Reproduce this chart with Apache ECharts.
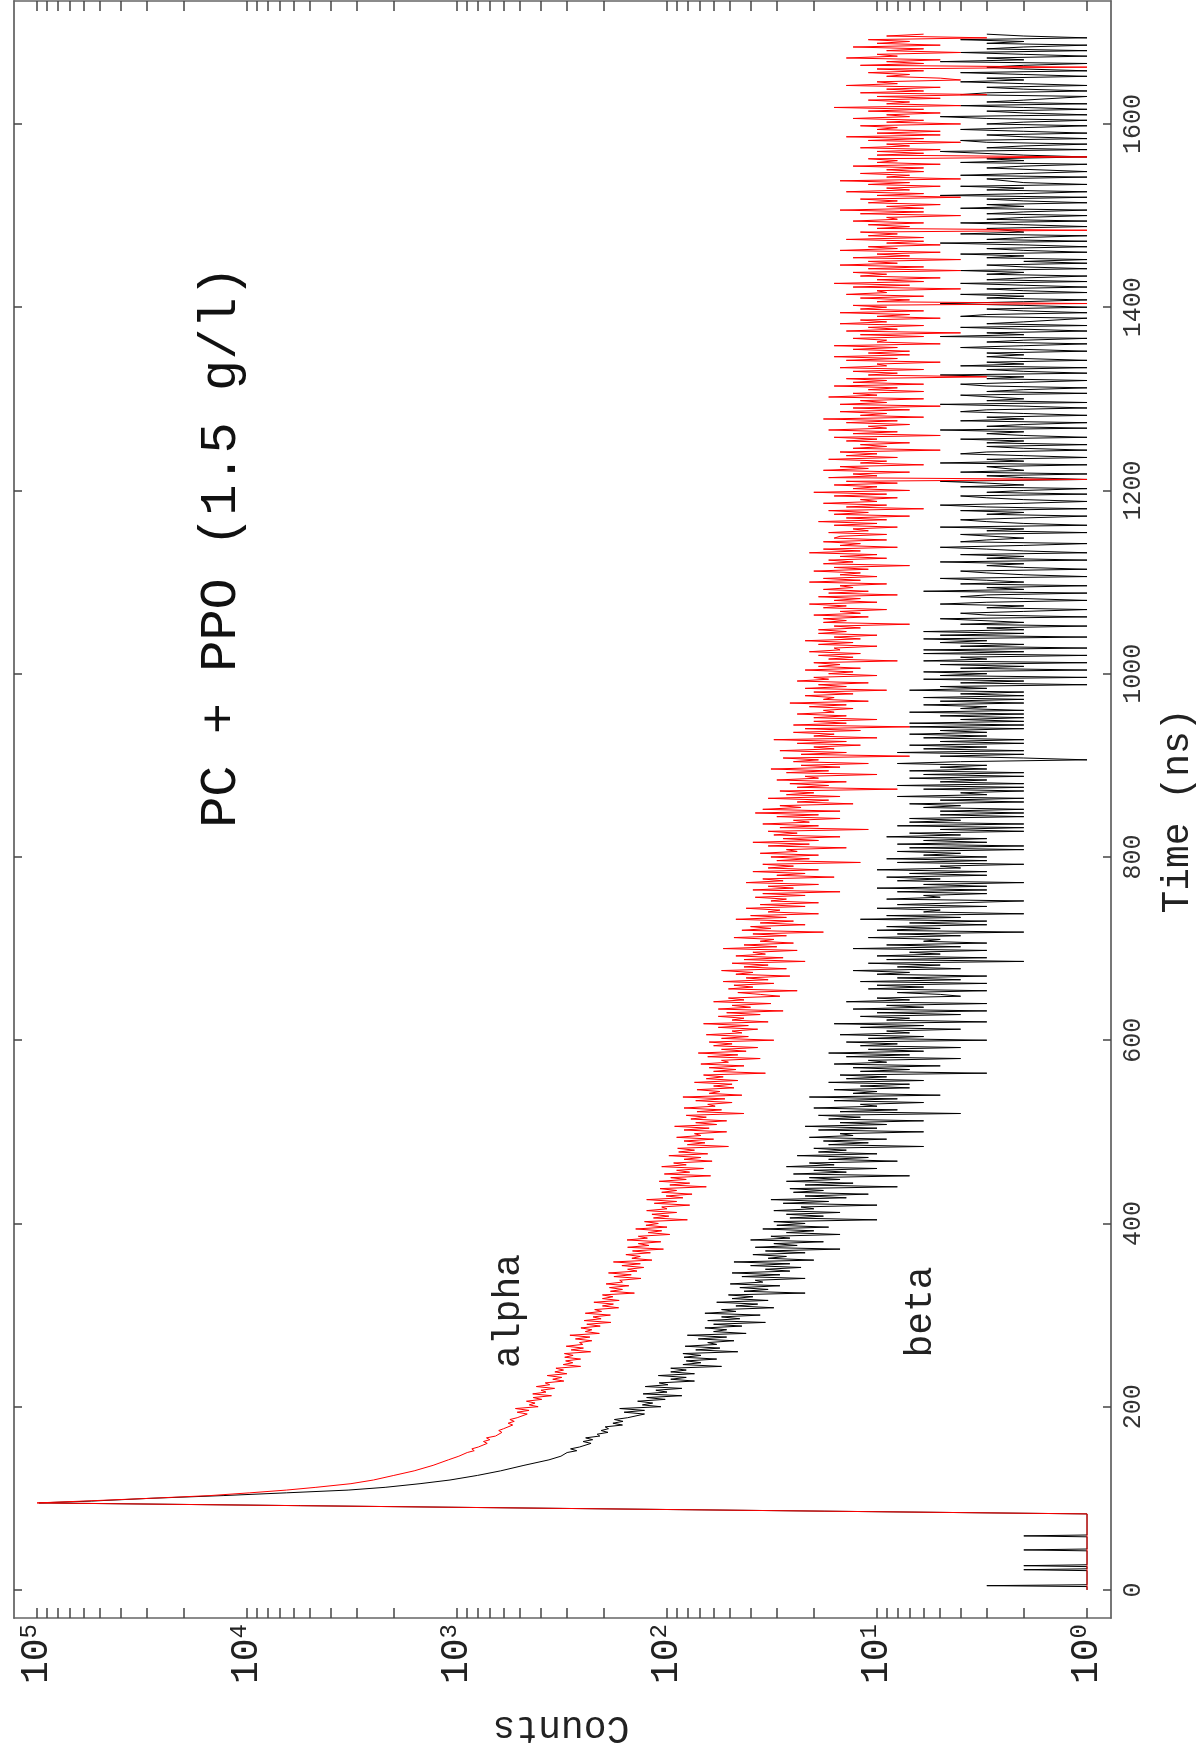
<!DOCTYPE html>
<html><head><meta charset="utf-8">
<script src="https://cdn.jsdelivr.net/npm/echarts@6/dist/echarts.min.js"></script>
<style>html,body{margin:0;padding:0;background:#fff}#c{width:1199px;height:1758px}</style>
</head><body><div id="c"></div>
<script>
// ---- data ----
const timeTicks = [0, 200, 400, 600, 800, 1000, 1200, 1400, 1600];
const countDecades = [1, 10, 100, 1000, 10000, 100000];

// before the pulse
const redPreTime = [0, 83];
const redPre = [1, 1];
const blackPreTime = [0, 3.7, 4.7, 5.7, 21.1, 22.1, 23.1, 25.5, 26.5, 27.5, 42.7, 43.7, 44.7, 58, 59, 60, 83];
const blackPre = [1, 1, 3, 1, 1, 2, 1, 1, 2, 1, 1, 2, 1, 1, 2, 1, 1];

// pulse and fast decay
const peakTime = [95, 97, 100, 103, 106, 109, 112, 116, 120, 125, 130, 136, 142, 146];
const redPeak = [100000, 60000, 29000, 15000, 9700, 6500, 4700, 3200, 2500, 2000, 1600, 1300, 1100, 980];
const blackPeak = [98000, 55000, 29000, 13000, 6500, 3300, 2200, 1500, 1080, 800, 620, 480, 365, 320];

// tail, 2 ns bins starting at 150 ns
const tailStart = 150, tailBin = 2;
const redTail = [
894,828,850,792,775,718,748,698,724,655,659,611,633,600,608,543,571,534,560,517,515,463,517,454,527,
411,453,425,467,395,434,355,436,377,398,343,419,362,380,310,350,317,372,300,342,311,338,258,312,281,
304,258,307,280,308,231,286,250,302,252,261,228,273,233,290,210,245,228,257,208,241,185,248,206,225,
186,245,205,221,170,203,180,223,169,203,181,203,143,186,163,188,152,195,163,168,133,179,148,190,139,
154,129,164,134,180,118,147,134,157,120,146,104,154,122,137,107,155,124,137,97,123,106,141,100,126,
110,128,80,116,98,118,90,125,100,106,78,115,90,125,84,101,76,106,90,108,65,97,78,109,81,
96,62,103,78,90,67,106,81,93,61,83,69,98,64,88,74,89,51,80,66,83,60,90,69,74,
52,83,63,92,58,73,52,77,65,81,43,72,55,83,59,64,49,73,53,84,44,63,56,72,48,
60,49,74,46,65,54,67,34,60,47,63,43,69,51,55,36,64,46,71,42,55,37,60,49,63,
31,55,41,65,44,49,37,57,41,67,33,49,43,57,36,52,28,57,40,49,32,60,43,51,29,
36,46,24,51,39,48,31,54,33,42,26,47,39,55,27,43,33,49,22,43,28,47,34,39,24,
54,30,43,25,36,31,48,27,39,18,44,32,40,22,36,25,47,27,40,19,33,29,42,22,36,
19,32,27,38,22,35,15,39,25,33,19,42,28,35,16,30,22,39,19,33,25,35,12,30,21,
32,19,36,24,27,14,33,21,39,19,28,15,31,24,33,11,29,19,35,21,25,15,30,19,38,
15,35,23,29,13,24,17,33,15,27,20,29,8,24,17,26,14,30,19,22,10,27,17,32,15,
23,11,25,19,28,7,23,14,29,16,20,12,24,14,31,10,20,16,25,12,22,7,25,14,20,
10,20,14,24,16,18,13,21,14,26,11,18,16,22,13,20,9,22,14,19,11,24,17,20,10,
17,13,22,12,19,15,20,8,17,13,19,12,21,15,16,10,19,13,22,12,16,10,19,14,19,
12,16,7,18,14,18,11,20,12,15,9,18,14,21,10,16,12,19,8,17,11,18,13,15,9,
21,12,18,10,15,12,20,11,16,7,18,13,17,9,15,10,21,12,18,8,15,12,18,9,16,
15,9,17,11,13,8,16,10,19,9,14,7,16,11,17,6,14,9,18,10,12,8,16,9,20,
7,13,10,16,8,14,1,17,10,13,7,18,11,15,6,12,9,17,8,14,10,15,5,13,9,
12,7,14,10,16,5,13,8,17,9,11,7,14,8,18,6,12,9,15,7,13,5,15,9,12,
6,17,10,13,6,11,8,16,6,13,9,14,3,11,8,13,6,15,9,10,5,14,8,16,7,
11,7,13,8,16,5,10,9,13,6,12,4,14,8,11,6,15,9,12,5,10,7,15,6,12,
9,13,1,10,7,12,6,14,9,10,4,13,7,16,6,10,5,12,9,13,4,11,6,15,8,
11,4,13,7,10,5,15,8,11,5,9,6,14,6,11,8,12,1,10,7,11,6,13,8,9,
4,12,6,15,6,9,5,11,8,12,4,10,6,14,7,9,5,11,7,15,4,9,7,12,6,
9,6,13,5,10,8,11,1,10,6,10,5,12,7,9,4,11,6,14,5,10,5,10,8,12,
4,9,6,13,7,9,5,11,6,16,4,9,7,11,5,10,3,12,6,9,5,14,8,10,4,
5,9,7,11,6,10,1,12,6,9,5,14,8,10,4,9,6,13,5,10,7,11,3,9,6
];
const blackTail = [
299,269,288,261,257,230,251,226,244,209,215,191,206,190,197,163,181,162,178,154,156,128,160,128,168,
107,131,117,138,102,125,85,130,100,113,85,127,99,109,74,96,81,110,74,96,81,96,55,84,69,
81,58,83,69,84,46,73,56,82,58,64,48,71,52,80,42,60,52,66,44,60,34,64,45,55,
36,66,47,55,31,47,37,58,33,49,39,51,22,43,33,45,29,50,35,38,22,44,29,49,26,
34,23,40,26,48,20,33,27,39,22,34,15,38,24,31,18,40,26,32,15,27,20,35,17,30,
22,31,10,26,18,27,15,31,20,23,10,28,17,32,14,22,11,25,18,26,8,22,13,27,15,
21,7,25,14,20,10,27,16,21,8,17,11,24,10,19,14,20,6,17,11,18,9,21,13,15,
6,19,10,22,9,15,6,17,12,19,4,15,8,20,10,12,6,16,8,21,5,13,10,16,7,
12,7,17,6,14,9,15,3,12,7,13,5,16,9,11,4,14,7,17,6,11,4,12,8,14,
3,11,6,15,7,9,4,12,6,16,3,9,7,12,4,10,3,13,6,9,3,14,7,10,4,
5,8,3,11,6,10,3,12,4,8,3,10,7,13,4,8,5,11,2,9,3,10,5,7,3,
13,4,9,3,6,5,11,4,8,2,10,5,9,3,7,3,12,4,9,2,6,5,10,3,8,
8,2,9,5,6,3,8,3,10,3,6,2,8,5,9,3,7,3,10,4,5,2,8,3,9,
3,6,4,8,2,7,2,8,3,6,3,9,4,7,2,5,2,8,2,7,4,7,2,5,2,
5,2,6,4,7,2,5,2,8,3,4,2,6,2,8,2,5,3,7,2,6,2,7,3,5,
3,8,4,1,2,5,2,8,2,6,3,7,2,5,2,6,3,7,3,5,2,7,2,7,2,
4,2,5,2,7,2,4,3,6,2,5,2,6,2,4,2,7,3,5,1,4,2,6,1,5,
3,6,1,4,2,5,1,6,3,4,1,6,2,6,1,4,2,5,3,6,1,5,2,6,2,
3,1,4,2,2,5,1,3,4,2,1,3,2,5,3,1,2,4,3,1,6,2,3,1,4,
2,3,5,1,2,3,4,1,2,3,2,5,1,3,2,4,1,2,3,5,2,1,4,3,2,
2,4,1,3,2,5,1,2,3,4,2,1,3,2,4,1,3,5,2,1,2,3,4,1,3,
2,1,4,2,3,5,1,2,3,1,4,2,2,3,1,5,2,3,1,2,4,3,1,2,3,
1,3,2,4,1,2,3,2,5,1,3,2,1,4,2,3,1,2,4,3,1,2,5,1,3,
2,2,4,1,3,2,1,3,4,2,1,3,2,5,1,2,3,1,4,2,3,1,2,3,2,
3,1,2,4,2,1,3,2,1,5,2,3,1,2,4,1,3,2,2,1,4,3,1,2,3,
1,2,5,2,1,3,2,4,1,2,3,1,2,4,1,3,2,1,3,2,4,1,2,3,1,
2,1,3,2,4,1,2,3,1,2,5,1,3,2,1,4,2,2,3,1,2,4,1,3,2,
1,3,2,1,4,2,3,1,2,3,1,5,2,1,3,2,4,1,2,2,3,1,4,2,1,
1,3,2,1,4,2,3,1,2,2,5,1,3,2,1,3,4,1,2,3,1,2,4,2,1,
3,2,1,3,5,1,2,3,1,2,4,1,3,2,2,1,4,3,1,2,3,1,2,4,2,
3,1,2,4,1,2,3,2,1,5,2,3,1,2,4,1,3,2,1,3,2,4,1,2,3
];

// ---- build series data ----
function build(preT, preV, pkV, tail) {
  const out = [];
  preT.forEach((t, i) => out.push([preV[i], t]));
  peakTime.forEach((t, i) => out.push([pkV[i], t]));
  tail.forEach((v, i) => out.push([v, tailStart + i * tailBin]));
  return out;
}
const redData = build(redPreTime, redPre, redPeak, redTail);
const blackData = build(blackPreTime, blackPre, blackPeak, blackTail);

const countTicks = [];
countDecades.forEach(d => { for (let m = 1; m <= 9; m++) { if (d * m <= 100000) countTicks.push(d * m); } });

const FONT = '"Liberation Mono", "DejaVu Sans Mono", monospace';
const countMin = 0.7688, countMax = 128710;
const timeMin = -30.6, timeMax = 1734.2;

function countAxis(pos, labels) {
  return {
    type: 'log', logBase: 10, inverse: true, position: pos, min: countMin, max: countMax,
    axisLine: { show: true, onZero: false, lineStyle: { color: '#666', width: 1.5 } },
    axisTick: { show: true, inside: true, length: 10, customValues: countTicks, lineStyle: { color: '#444', width: 1.5 } },
    minorTick: { show: false }, splitLine: { show: false },
    axisLabel: labels ? {
      show: true, customValues: countDecades, rotate: 90, margin: 6,
      formatter: v => '{b|10}{s|' + Math.round(Math.log10(v)) + '}',
      rich: {
        b: { fontSize: 38, fontFamily: FONT, color: '#222' },
        s: { fontSize: 24, fontFamily: FONT, color: '#222', verticalAlign: 'top' }
      }
    } : { show: false }
  };
}
function timeAxis(pos, labels) {
  return {
    type: 'value', position: pos, min: timeMin, max: timeMax,
    axisLine: { show: true, onZero: false, lineStyle: { color: '#777', width: 2 } },
    axisTick: { show: true, inside: true, length: 8, customValues: timeTicks, lineStyle: { color: '#444', width: 1.5 } },
    splitLine: { show: false },
    axisLabel: labels ? { show: true, customValues: timeTicks, rotate: 90, margin: 10, fontSize: 25,
      fontFamily: FONT, color: '#333', formatter: v => String(Math.round(v)) } : { show: false }
  };
}

const chart = echarts.init(document.getElementById('c'));
chart.setOption({
  animation: false,
  backgroundColor: '#fff',
  grid: { left: 14, right: 88, top: 1, bottom: 140, containLabel: false },
  xAxis: [countAxis('bottom', true), countAxis('top', false)],
  yAxis: [timeAxis('right', true), timeAxis('left', false)],
  series: [
    { type: 'line', name: 'beta', xAxisIndex: 0, yAxisIndex: 0, data: blackData, symbol: 'none', showSymbol: false,
      lineStyle: { color: '#000', width: 1 }, itemStyle: { color: '#000' } },
    { type: 'line', name: 'alpha', xAxisIndex: 0, yAxisIndex: 0, data: redData, symbol: 'none', showSymbol: false,
      lineStyle: { color: '#ff0000', width: 1 }, itemStyle: { color: '#ff0000' } }
  ],
  graphic: [
    { type: 'text', x: 221, y: 547, rotation: Math.PI / 2,
      style: { text: 'PC + PPO (1.5 g/l)', fontSize: 52, fontFamily: FONT, fill: '#111', align: 'center', verticalAlign: 'middle' } },
    { type: 'text', x: 509, y: 1311, rotation: Math.PI / 2,
      style: { text: 'alpha', fontSize: 38, fontFamily: FONT, fill: '#222', align: 'center', verticalAlign: 'middle' } },
    { type: 'text', x: 921, y: 1312, rotation: Math.PI / 2,
      style: { text: 'beta', fontSize: 38, fontFamily: FONT, fill: '#222', align: 'center', verticalAlign: 'middle' } },
    { type: 'text', x: 1178, y: 811, rotation: Math.PI / 2,
      style: { text: 'Time (ns)', fontSize: 38, fontFamily: FONT, fill: '#222', align: 'center', verticalAlign: 'middle' } },
    { type: 'text', x: 561, y: 1727, rotation: Math.PI,
      style: { text: 'Counts', fontSize: 38, fontFamily: FONT, fill: '#222', align: 'center', verticalAlign: 'middle' } }
  ]
});
</script></body></html>
